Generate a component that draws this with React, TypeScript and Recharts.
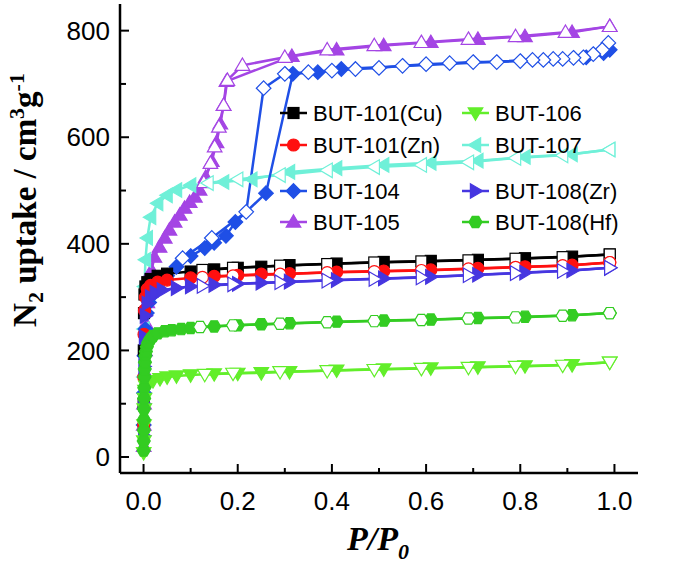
import React from 'react';
import { LineChart, Line, XAxis, YAxis } from 'recharts';

type Pt = [number, number];

const xTicks = [0, 0.1, 0.2, 0.3, 0.4, 0.5, 0.6, 0.7, 0.8, 0.9, 1.0];
const xTickLabels = ['0.0', '', '0.2', '', '0.4', '', '0.6', '', '0.8', '', '1.0'];
const yTicks = [0, 100, 200, 300, 400, 500, 600, 700, 800];
const yTickLabels = ['0', '', '200', '', '400', '', '600', '', '800'];

// BUT-101(Cu)
const cuAds: Pt[] = [[0.0003,100],[0.0006,200],[0.001,270],[0.002,305],[0.004,320],[0.008,328],[0.015,334],[0.03,340],[0.05,344],[0.1,348],[0.15,352],[0.2,355],[0.25,357],[0.31,360],[0.41,363],[0.51,366],[0.61,368],[0.71,370],[0.81,373],[0.91,376],[0.99,380]];
const cuDes: Pt[] = [[0.99,380],[0.89,375],[0.79,372],[0.69,369],[0.59,367],[0.49,365],[0.39,362],[0.29,359],[0.19,355],[0.125,351]];
// BUT-101(Zn)
const znAds: Pt[] = [[0.0003,60],[0.0006,150],[0.001,230],[0.002,275],[0.004,300],[0.008,315],[0.015,322],[0.03,328],[0.05,332],[0.1,336],[0.15,339],[0.2,341],[0.25,343],[0.31,344],[0.41,347],[0.51,349],[0.61,351],[0.71,354],[0.81,357],[0.91,360],[0.99,365]];
const znDes: Pt[] = [[0.99,365],[0.89,359],[0.79,356],[0.69,353],[0.59,350],[0.49,348],[0.39,346],[0.29,343],[0.19,340],[0.125,337]];
// BUT-104
const b104Ads: Pt[] = [[0.0005,60],[0.001,120],[0.002,190],[0.004,240],[0.007,270],[0.012,290],[0.02,305],[0.03,318],[0.05,340],[0.07,357],[0.1,377],[0.13,392],[0.15,402],[0.175,415],[0.195,441],[0.26,495],[0.317,719],[0.37,722],[0.42,728],[0.94,750],[0.977,758],[0.99,764]];
const b104Des: Pt[] = [[0.987,777],[0.974,764],[0.955,756],[0.934,750],[0.913,749],[0.89,747],[0.87,747],[0.849,745],[0.826,745],[0.8,743],[0.75,741],[0.7,741],[0.65,739],[0.6,737],[0.55,734],[0.5,730],[0.45,728],[0.4,725],[0.35,722],[0.3,719],[0.255,692],[0.218,460],[0.145,411],[0.083,373]];
// BUT-105
const b105Ads: Pt[] = [[0.0003,20],[0.0006,60],[0.001,100],[0.002,160],[0.003,200],[0.005,250],[0.008,290],[0.012,320],[0.017,350],[0.023,375],[0.034,394],[0.045,411],[0.055,426],[0.066,441],[0.077,454],[0.087,467],[0.098,478],[0.109,488],[0.119,501],[0.132,525],[0.145,555],[0.155,590],[0.163,625],[0.17,660],[0.176,705],[0.315,752],[0.41,764],[0.51,772],[0.61,778],[0.71,784],[0.81,789],[0.91,797],[0.99,808]];
const b105Des: Pt[] = [[0.99,808],[0.896,797],[0.79,789],[0.69,784],[0.59,778],[0.49,772],[0.39,764],[0.3,750],[0.21,735],[0.178,707],[0.17,660],[0.16,619],[0.151,582],[0.142,551],[0.128,515]];
// BUT-106
const b106Ads: Pt[] = [[0.0003,8],[0.0006,30],[0.001,60],[0.0015,90],[0.002,110],[0.003,125],[0.005,133],[0.01,138],[0.02,143],[0.035,147],[0.05,150],[0.07,152],[0.1,154],[0.15,156],[0.2,157],[0.25,158],[0.31,160],[0.41,163],[0.51,165],[0.61,167],[0.71,169],[0.81,171],[0.91,173],[0.99,178]];
const b106Des: Pt[] = [[0.99,178],[0.89,172],[0.79,170],[0.69,168],[0.59,166],[0.49,164],[0.39,162],[0.29,160],[0.19,157],[0.13,155]];
// BUT-107
const b107Ads: Pt[] = [[0.0003,60],[0.0006,150],[0.001,240],[0.002,320],[0.004,370],[0.008,411],[0.015,450],[0.03,476],[0.05,491],[0.07,501],[0.1,510],[0.17,516],[0.23,521],[0.31,535],[0.41,542],[0.51,548],[0.61,552],[0.71,556],[0.81,563],[0.91,568],[0.99,577]];
const b107Des: Pt[] = [[0.99,577],[0.89,566],[0.79,561],[0.69,553],[0.59,548],[0.49,544],[0.39,538],[0.29,529],[0.2,521],[0.137,514]];
// BUT-108(Zr)
const zrAds: Pt[] = [[0.0003,40],[0.0006,100],[0.001,170],[0.002,225],[0.004,265],[0.008,288],[0.015,300],[0.025,308],[0.04,313],[0.07,317],[0.1,320],[0.15,323],[0.2,325],[0.25,327],[0.31,329],[0.41,332],[0.51,335],[0.61,338],[0.71,342],[0.81,346],[0.91,350],[0.99,355]];
const zrDes: Pt[] = [[0.99,355],[0.89,349],[0.79,345],[0.69,341],[0.59,337],[0.49,334],[0.39,331],[0.29,328],[0.19,324],[0.125,321]];
// BUT-108(Hf)
const hfAds: Pt[] = [[0.0002,12],[0.0004,30],[0.0006,50],[0.0008,70],[0.001,90],[0.0013,110],[0.0016,130],[0.002,150],[0.0025,165],[0.003,178],[0.004,190],[0.005,198],[0.007,207],[0.01,215],[0.015,222],[0.02,227],[0.03,232],[0.045,236],[0.06,238],[0.08,240],[0.1,242],[0.15,245],[0.2,247],[0.25,249],[0.31,251],[0.41,254],[0.51,256],[0.61,258],[0.71,261],[0.81,263],[0.91,266],[0.99,270]];
const hfDes: Pt[] = [[0.99,270],[0.89,265],[0.79,262],[0.69,260],[0.59,257],[0.49,255],[0.39,253],[0.29,250],[0.19,247],[0.12,244]];

type Shape = 'square' | 'circle' | 'diamond' | 'up' | 'down' | 'left' | 'right' | 'hex';
interface Series { name: string; color: string; shape: Shape; ads: Pt[]; des: Pt[] }

const legendSeries: Series[] = [
  { name: 'BUT-101(Cu)', color: '#000000', shape: 'square', ads: cuAds, des: cuDes },
  { name: 'BUT-101(Zn)', color: '#ff1010', shape: 'circle', ads: znAds, des: znDes },
  { name: 'BUT-104', color: '#1f4fe6', shape: 'diamond', ads: b104Ads, des: b104Des },
  { name: 'BUT-105', color: '#a445e4', shape: 'up', ads: b105Ads, des: b105Des },
  { name: 'BUT-106', color: '#62ee2a', shape: 'down', ads: b106Ads, des: b106Des },
  { name: 'BUT-107', color: '#6ff0d8', shape: 'left', ads: b107Ads, des: b107Des },
  { name: 'BUT-108(Zr)', color: '#4636e0', shape: 'right', ads: zrAds, des: zrDes },
  { name: 'BUT-108(Hf)', color: '#33cc22', shape: 'hex', ads: hfAds, des: hfDes },
];

const drawOrder = ['BUT-105', 'BUT-107', 'BUT-104', 'BUT-101(Cu)', 'BUT-101(Zn)', 'BUT-108(Zr)', 'BUT-106', 'BUT-108(Hf)'];

const toRows = (pts: Pt[]) => pts.map(([p, v]) => ({ p, v }));

function Marker({ cx, cy, shape, color, filled }: { cx: number; cy: number; shape: Shape; color: string; filled: boolean }) {
  if (cx == null || cy == null || isNaN(cx) || isNaN(cy)) return null;
  const fill = filled ? color : '#ffffff';
  const common = { fill, stroke: color, strokeWidth: 1.2 };
  const r = 7.3;
  const poly = (pts: number[][]) => <polygon points={pts.map(([a, b]) => `${cx + a},${cy + b}`).join(' ')} {...common} />;
  switch (shape) {
    case 'square':
      return <rect x={cx - 5.5} y={cy - 5.5} width={11} height={11} {...common} />;
    case 'circle':
      return <circle cx={cx} cy={cy} r={6} {...common} />;
    case 'diamond':
      return poly([[0, -r], [r, 0], [0, r], [-r, 0]]);
    case 'up':
      return poly([[0, -r], [r, r * 0.7], [-r, r * 0.7]]);
    case 'down':
      return poly([[0, r], [r, -r * 0.7], [-r, -r * 0.7]]);
    case 'left':
      return poly([[-r, 0], [r * 0.7, -r], [r * 0.7, r]]);
    case 'right':
      return poly([[r, 0], [-r * 0.7, -r], [-r * 0.7, r]]);
    case 'hex': {
      const h = 6.5;
      const pts: number[][] = [];
      for (let i = 0; i < 6; i++) {
        const a = (Math.PI / 3) * i;
        pts.push([h * Math.cos(a), h * Math.sin(a)]);
      }
      return poly(pts);
    }
  }
  return null;
}

const FONT_SANS = '"Liberation Sans", Arial, sans-serif';
const FONT_SERIF = '"Liberation Serif", "Times New Roman", serif';

const X_MARGIN = 19;
const Y_MARGIN = 10;

function XTick(props: any) {
  const { x, y, payload, index } = props;
  const axisY = y - X_MARGIN;
  const i = xTicks.indexOf(payload.value);
  const label = i >= 0 ? xTickLabels[i] : '';
  const major = label !== '';
  return (
    <g key={`xt-${index}`}>
      <line x1={x} x2={x} y1={axisY} y2={axisY - (major ? 9 : 5)} stroke="#000" strokeWidth={2} />
      {major && (
        <text x={x} y={y} dy="0.71em" textAnchor="middle" fontFamily={FONT_SANS} fontSize={26} fill="#000">
          {label}
        </text>
      )}
    </g>
  );
}

function YTick(props: any) {
  const { x, y, payload, index } = props;
  const axisX = x + Y_MARGIN;
  const i = yTicks.indexOf(payload.value);
  const label = i >= 0 ? yTickLabels[i] : '';
  const major = label !== '';
  return (
    <g key={`yt-${index}`}>
      <line x1={axisX} x2={axisX + (major ? 9 : 6)} y1={y} y2={y} stroke="#000" strokeWidth={2} />
      {major && (
        <text x={x} y={y} dy="0.355em" textAnchor="end" fontFamily={FONT_SANS} fontSize={26} fill="#000">
          {label}
        </text>
      )}
    </g>
  );
}

const legendRowsY = [113, 145, 191, 222];
const legendCols = [{ lx: 280, tx: 313 }, { lx: 462, tx: 495 }];

export default function App() {
  const ordered = drawOrder.map((n) => legendSeries.find((s) => s.name === n)!);
  return (
    <div style={{ position: 'absolute', left: 0, top: 0, width: 674, height: 568, background: '#ffffff' }}>
      <LineChart width={674} height={568} margin={{ top: 4, right: 36, bottom: 35, left: 0 }}>
        <XAxis
          dataKey="p"
          type="number"
          domain={[-0.05, 1.05]}
          ticks={xTicks}
          allowDataOverflow
          height={60}
          tickSize={0}
          tickMargin={X_MARGIN}
          tickLine={false}
          axisLine={{ stroke: '#000', strokeWidth: 2.5 }}
          tick={<XTick />}
          interval={0}
        />
        <YAxis
          type="number"
          domain={[-30, 850]}
          ticks={yTicks}
          allowDataOverflow
          width={120}
          tickSize={0}
          tickMargin={Y_MARGIN}
          tickLine={false}
          axisLine={{ stroke: '#000', strokeWidth: 2.5 }}
          tick={<YTick />}
          interval={0}
        />
        {ordered.flatMap((s) => [
          <Line
            key={`${s.name}-ads`}
            data={toRows(s.ads)}
            dataKey="v"
            name={`${s.name} adsorption`}
            type="linear"
            stroke={s.color}
            strokeWidth={2.5}
            isAnimationActive={false}
            activeDot={false}
            legendType="none"
            dot={(p: any) => (
              <Marker key={`${s.name}-a-${p.index}`} cx={p.cx} cy={p.cy} shape={s.shape} color={s.color} filled />
            )}
          />,
          <Line
            key={`${s.name}-des`}
            data={toRows(s.des)}
            dataKey="v"
            name={`${s.name} desorption`}
            type="linear"
            stroke={s.color}
            strokeWidth={2.5}
            isAnimationActive={false}
            activeDot={false}
            legendType="none"
            dot={(p: any) => (
              <Marker key={`${s.name}-d-${p.index}`} cx={p.cx} cy={p.cy} shape={s.shape} color={s.color} filled={false} />
            )}
          />,
        ])}
      </LineChart>
      <svg width={674} height={568} style={{ position: 'absolute', left: 0, top: 0, pointerEvents: 'none' }}>
        {legendSeries.map((s, i) => {
          const col = legendCols[Math.floor(i / 4)];
          const y = legendRowsY[i % 4];
          return (
            <g key={s.name}>
              <line x1={col.lx} x2={col.lx + 27} y1={y} y2={y} stroke={s.color} strokeWidth={2.5} />
              <Marker cx={col.lx + 13.5} cy={y} shape={s.shape} color={s.color} filled />
              <text x={col.tx} y={y} dy="0.36em" fontFamily={FONT_SANS} fontSize={22} fill="#000">
                {s.name}
              </text>
            </g>
          );
        })}
        <text
          transform="translate(36,200) rotate(-90)"
          textAnchor="middle"
          fontFamily={FONT_SERIF}
          fontWeight="bold"
          fontSize={33}
          fill="#000"
        >
          N<tspan dy={7} fontSize={22}>2</tspan>
          <tspan dy={-7}> uptake / cm</tspan>
          <tspan dy={-12} fontSize={22}>3</tspan>
          <tspan dy={12}>g</tspan>
          <tspan dy={-12} fontSize={22}>-1</tspan>
        </text>
        <text
          x={378}
          y={550}
          textAnchor="middle"
          fontFamily={FONT_SERIF}
          fontWeight="bold"
          fontStyle="italic"
          fontSize={34}
          fill="#000"
        >
          P/P<tspan dy={9} fontSize={22}>0</tspan>
        </text>
      </svg>
    </div>
  );
}
